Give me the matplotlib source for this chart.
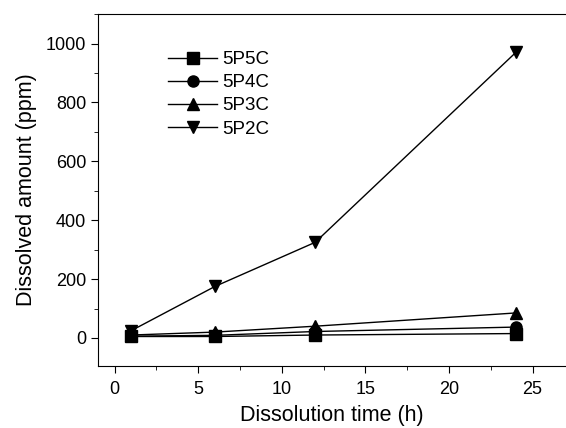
import matplotlib
import matplotlib.pyplot as plt
from matplotlib.ticker import MultipleLocator

matplotlib.use('agg')
plt.rcParams['font.family'] = ['Liberation Sans', 'DejaVu Sans']

# Данные
time_h = [1, 6, 12, 24]
p5c = [5, 5, 10, 15]
p4c = [6, 9, 22, 37]
p3c = [10, 20, 40, 85]
p2c = [25, 175, 325, 970]

series = [
    ('5P5C', p5c, 's'),
    ('5P4C', p4c, 'o'),
    ('5P3C', p3c, '^'),
    ('5P2C', p2c, 'v'),
]

fig = plt.figure(figsize=(5.66, 4.28), dpi=100)
ax = fig.add_axes([0.173, 0.145, 0.827, 0.822])

for name, vals, m in series:
    ax.plot(time_h, vals, color='black', linewidth=1.0, marker=m, markersize=8, label=name)

ax.set_xlim(-1, 27)
ax.set_ylim(-95, 1100)
ax.xaxis.set_major_locator(MultipleLocator(5))
ax.xaxis.set_minor_locator(MultipleLocator(2.5))
ax.yaxis.set_major_locator(MultipleLocator(200))
ax.yaxis.set_minor_locator(MultipleLocator(100))
ax.tick_params(which='both', direction='out', labelsize=13)
ax.tick_params(which='major', length=5)
ax.tick_params(which='minor', length=3)
ax.tick_params(axis='x', pad=6)
ax.spines['right'].set_visible(False)

ax.set_xlabel('Dissolution time (h)', fontsize=15.5, labelpad=5)
ax.set_ylabel('Dissolved amount (ppm)', fontsize=15.5, labelpad=6)

ax.legend(loc='upper left', bbox_to_anchor=(0.15, 0.895), frameon=False, fontsize=13.5,
          handlelength=2.6, labelspacing=0.32, handletextpad=0.3,
          borderpad=0, borderaxespad=0)

fig.savefig('out.png', dpi=100)
